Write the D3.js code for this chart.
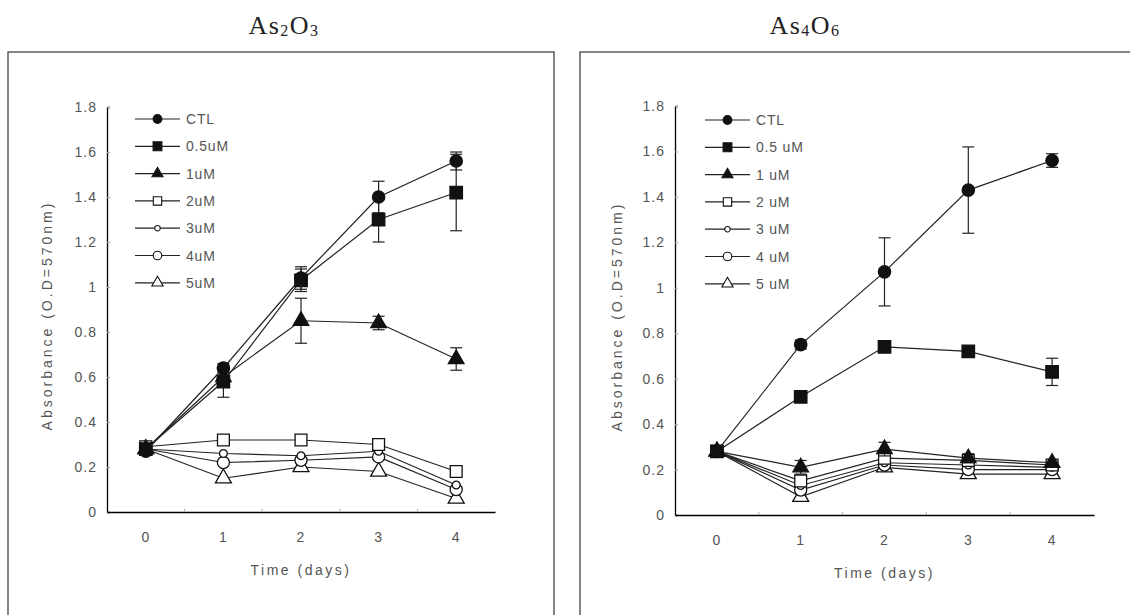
<!DOCTYPE html>
<html>
<head>
<meta charset="utf-8">
<script src="https://cdn.jsdelivr.net/npm/d3@7"></script>
<style>
  body { margin: 0; background: #fff; }
  svg { display: block; }
  .tick-label { font-family: "Liberation Sans", Arial, sans-serif; font-size: 14px; fill: #555; letter-spacing: 1px; }
  .legend-label { font-family: "Liberation Sans", Arial, sans-serif; font-size: 14px; fill: #555; letter-spacing: 0.8px; }
  .axis-title { font-family: "Liberation Sans", Arial, sans-serif; font-size: 14px; fill: #555; }
  .panel-title { font-family: "Liberation Serif", "DejaVu Serif", serif; font-size: 26px; fill: #222; letter-spacing: 1.5px; }
</style>
</head>
<body>
<svg id="chart" width="1130" height="615"></svg>
<script>
let days = ['0', '1', '2', '3', '4']
let yTicks = [0, 0.2, 0.4, 0.6, 0.8, 1, 1.2, 1.4, 1.6, 1.8]

let as2o3Labels = ['CTL', '0.5uM', '1uM', '2uM', '3uM', '4uM', '5uM']
let as2o3Values = [
  [0.27, 0.64, 1.04, 1.40, 1.56],
  [0.28, 0.58, 1.03, 1.30, 1.42],
  [0.28, 0.60, 0.85, 0.84, 0.68],
  [0.29, 0.32, 0.32, 0.30, 0.18],
  [0.28, 0.26, 0.25, 0.27, 0.12],
  [0.28, 0.22, 0.23, 0.245, 0.10],
  [0.28, 0.15, 0.20, 0.18, 0.06]
]
let as2o3Errors = [
  [0.01, 0.02, 0.05, 0.07, 0.04],
  [0.01, 0.07, 0.05, 0.10, 0.17],
  [0.01, 0.03, 0.10, 0.03, 0.05],
  [0.01, 0.01, 0.01, 0.01, 0.01],
  [0.01, 0.01, 0.01, 0.01, 0.01],
  [0.01, 0.01, 0.01, 0.01, 0.01],
  [0.01, 0.01, 0.01, 0.01, 0.01]
]

let as4o6Labels = ['CTL', '0.5 uM', '1 uM', '2 uM', '3 uM', '4 uM', '5 uM']
let as4o6Values = [
  [0.28, 0.75, 1.07, 1.43, 1.56],
  [0.28, 0.52, 0.74, 0.72, 0.63],
  [0.28, 0.21, 0.29, 0.25, 0.23],
  [0.28, 0.15, 0.25, 0.24, 0.22],
  [0.28, 0.13, 0.23, 0.22, 0.21],
  [0.28, 0.11, 0.22, 0.20, 0.20],
  [0.28, 0.08, 0.21, 0.18, 0.18]
]
let as4o6Errors = [
  [0.01, 0.02, 0.15, 0.19, 0.03],
  [0.01, 0.02, 0.02, 0.02, 0.06],
  [0.01, 0.03, 0.03, 0.02, 0.01],
  [0.01, 0.01, 0.01, 0.01, 0.01],
  [0.01, 0.01, 0.01, 0.01, 0.01],
  [0.01, 0.01, 0.01, 0.01, 0.01],
  [0.01, 0.01, 0.01, 0.01, 0.01]
]

// marker per series: symbol type, area, filled or open
let markers = [
  { type: d3.symbolCircle, size: 120, filled: true },
  { type: d3.symbolSquare, size: 155, filled: true },
  { type: d3.symbolTriangle, size: 105, filled: true },
  { type: d3.symbolSquare, size: 140, filled: false },
  { type: d3.symbolCircle, size: 48, filled: false },
  { type: d3.symbolCircle, size: 115, filled: false },
  { type: d3.symbolTriangle, size: 110, filled: false }
]

let svg = d3.select('#chart')

function tickText(v) {
  return v === 0 ? '0' : d3.format('.1f')(v).replace(/\.0$/, '')
}

function drawPanel(p) {
  let g = svg.append('g')

  // outer frame, runs off the bottom of the picture
  g.append('rect')
    .attr('x', p.box[0]).attr('y', p.box[1])
    .attr('width', p.box[2]).attr('height', 700)
    .attr('fill', 'none').attr('stroke', '#333').attr('stroke-width', 1.2)

  let title = g.append('text')
    .attr('class', 'panel-title')
    .attr('x', p.titleX).attr('y', 36)
    .attr('text-anchor', 'middle')
  p.title.forEach(part => {
    title.append('tspan')
      .attr('font-size', part.sub ? 16 : 26)
      .attr('dy', part.sub ? 2 : -2)
      .text(part.t)
  })

  let x = d3.scaleBand().domain(days).range([p.left, p.right]).padding(0)
  let y = d3.scaleLinear().domain([0, 1.8]).range([p.bottom, p.top])

  // y axis
  let yAxis = g.append('g').attr('transform', `translate(${p.left},0)`)
    .call(d3.axisLeft(y).tickValues(yTicks).tickSize(-3).tickFormat(tickText).tickPadding(10))
  yAxis.select('.domain').attr('stroke', '#000').attr('stroke-width', 1.3)
  yAxis.selectAll('.tick line').attr('stroke', '#aaa')
  yAxis.selectAll('.tick text').attr('class', 'tick-label').attr('fill', null)

  // x axis: ticks between categories
  let xAxis = g.append('g').attr('transform', `translate(0,${p.bottom})`)
    .call(d3.axisBottom(x).tickSize(0).tickPadding(20))
  xAxis.select('.domain').attr('stroke', '#000').attr('stroke-width', 1.3)
  xAxis.selectAll('.tick text').attr('class', 'tick-label').attr('fill', null)
  xAxis.selectAll('.minor')
    .data(days.slice(1))
    .enter()
    .append('line')
    .attr('x1', d => x(d)).attr('x2', d => x(d))
    .attr('y1', 0).attr('y2', -3)
    .attr('stroke', '#aaa')

  g.append('text')
    .attr('class', 'axis-title')
    .attr('x', (p.left + p.right) / 2).attr('y', p.bottom + 63)
    .attr('text-anchor', 'middle')
    .attr('font-size', 15)
    .attr('letter-spacing', '2.5px')
    .text('Time (days)')

  g.append('text')
    .attr('class', 'axis-title')
    .attr('transform', `translate(${p.yTitleX},${(p.top + p.bottom) / 2 + 6}) rotate(-90)`)
    .attr('text-anchor', 'middle')
    .attr('letter-spacing', '3px')
    .text('Absorbance (O.D=570nm)')

  let cx = d => x(d) + x.bandwidth() / 2
  let line = d3.line().x((d, i) => cx(days[i])).y(d => y(d))

  // draw later series first so control sits on top
  for (let s = p.values.length - 1; s >= 0; s--) {
    let vals = p.values[s]
    let errs = p.errors[s]
    let m = markers[s]
    let sg = g.append('g')

    sg.append('path')
      .attr('d', line(vals))
      .attr('fill', 'none').attr('stroke', '#222').attr('stroke-width', 1.2)

    let eb = sg.selectAll('.err')
      .data(vals.map((v, i) => [i, v, errs[i]]).filter(d => d[2] > 0.015))
      .enter()
      .append('g')
    eb.append('line')
      .attr('x1', d => cx(days[d[0]])).attr('x2', d => cx(days[d[0]]))
      .attr('y1', d => y(d[1] - d[2])).attr('y2', d => y(d[1] + d[2]))
      .attr('stroke', '#222').attr('stroke-width', 1.2)
    eb.selectAll('.cap')
      .data(d => [d[1] - d[2], d[1] + d[2]].map(v => [d[0], v]))
      .enter()
      .append('line')
      .attr('x1', d => cx(days[d[0]]) - 6).attr('x2', d => cx(days[d[0]]) + 6)
      .attr('y1', d => y(d[1])).attr('y2', d => y(d[1]))
      .attr('stroke', '#222').attr('stroke-width', 1.2)

    sg.selectAll('.pt')
      .data(vals)
      .enter()
      .append('path')
      .attr('d', d3.symbol().type(m.type).size(m.size))
      .attr('transform', (d, i) => `translate(${cx(days[i])},${y(d)})`)
      .attr('fill', m.filled ? '#111' : '#fff')
      .attr('stroke', '#111').attr('stroke-width', 1.3)
  }

  // legend
  let legend = g.append('g')
    .selectAll('g')
    .data(p.labels)
    .enter()
    .append('g')
    .attr('transform', (d, i) => `translate(${p.legendX},${p.legendY + i * 27.3})`)

  legend.append('line')
    .attr('x1', 0).attr('x2', 45)
    .attr('stroke', '#222').attr('stroke-width', 1.2)
  legend.append('path')
    .attr('d', (d, i) => d3.symbol().type(markers[i].type).size(markers[i].size * 0.5)())
    .attr('transform', 'translate(22.5,0)')
    .attr('fill', (d, i) => markers[i].filled ? '#111' : '#fff')
    .attr('stroke', '#111').attr('stroke-width', 1.1)
  legend.append('text')
    .attr('class', 'legend-label')
    .attr('x', 51).attr('y', 5)
    .text(d => d)
}

drawPanel({
  box: [8, 52, 546],
  title: [{ t: 'As' }, { t: '2', sub: true }, { t: 'O' }, { t: '3', sub: true }],
  titleX: 284,
  left: 107, right: 495, top: 107, bottom: 512,
  yTitleX: 52,
  labels: as2o3Labels, values: as2o3Values, errors: as2o3Errors,
  legendX: 135, legendY: 119
})

drawPanel({
  box: [580, 52, 600],
  title: [{ t: 'As' }, { t: '4', sub: true }, { t: 'O' }, { t: '6', sub: true }],
  titleX: 805,
  left: 675, right: 1094, top: 106, bottom: 515,
  yTitleX: 622,
  labels: as4o6Labels, values: as4o6Values, errors: as4o6Errors,
  legendX: 705, legendY: 120
})
</script>
</body>
</html>
